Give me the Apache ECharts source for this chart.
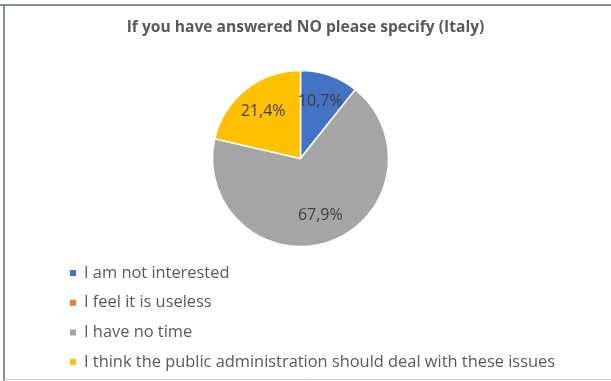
<!DOCTYPE html>
<html>
<head>
<meta charset="utf-8">
<script src="https://cdn.jsdelivr.net/npm/echarts@6/dist/echarts.min.js"></script>
<style>
html,body{margin:0;padding:0;background:#fff;}
#c{width:611px;height:381px;}
</style>
</head>
<body>
<div id="c"></div>
<script>
const chartTitle = 'If you have answered NO please specify (Italy)';
const categories = ['I am not interested', 'I feel it is useless', 'I have no time', 'I think the public administration should deal with these issues'];
const percents = [10.7, 0, 67.9, 21.4];
const colors = ['#4472C4', '#ED7D31', '#A5A5A5', '#FFC000'];

const FONT = 'Open Sans';
const data = categories.map((n, i) => ({ name: n, value: percents[i], itemStyle: { color: colors[i] } }));
const chart = echarts.init(document.getElementById('c'), null, { renderer: 'canvas' });
chart.setOption({
  animation: false,
  title: {
    text: chartTitle,
    left: 'center',
    top: 15,
    textStyle: { fontFamily: FONT, fontSize: 15.6, fontWeight: 'bold', color: '#595959' }
  },
  legend: {
    orient: 'vertical',
    left: 63,
    top: 259,
    icon: 'rect',
    itemWidth: 8,
    itemHeight: 8,
    itemGap: 11.7,
    data: categories,
    textStyle: { fontFamily: FONT, fontSize: 16.4, color: '#595959', lineHeight: 18, padding: [0, 0, 0, 2] }
  },
  graphic: [
    { type: 'line', shape: { x1: 0, y1: 5, x2: 611, y2: 5 }, style: { stroke: '#5b6a85', lineWidth: 1.5 } },
    { type: 'line', shape: { x1: 4, y1: 5, x2: 4, y2: 381 }, style: { stroke: '#5b6a85', lineWidth: 1.5 } },
    { type: 'line', shape: { x1: 4, y1: 379.5, x2: 611, y2: 379.5 }, style: { stroke: '#d0d0d0', lineWidth: 1 } }
  ],
  series: [
    {
      type: 'pie',
      center: [300.5, 158.5],
      radius: [0, 88],
      startAngle: 90,
      clockwise: true,
      data: data,
      label: { show: false },
      labelLine: { show: false },
      itemStyle: { borderColor: '#fff', borderWidth: 1.5 },
      emphasis: { disabled: true }
    },
    {
      type: 'pie',
      center: [300.5, 158.5],
      radius: [26, 88],
      startAngle: 90,
      clockwise: true,
      silent: true,
      data: data.map(d => ({ name: d.name, value: d.value })),
      itemStyle: { color: 'rgba(0,0,0,0)' },
      label: {
        show: true,
        position: 'inside',
        fontFamily: FONT,
        fontSize: 16,
        color: '#404040',
        formatter: p => p.value ? p.value.toFixed(1).replace('.', ',') + '%' : ''
      },
      labelLine: { show: false },
      emphasis: { disabled: true }
    }
  ]
});
</script>
</body>
</html>
